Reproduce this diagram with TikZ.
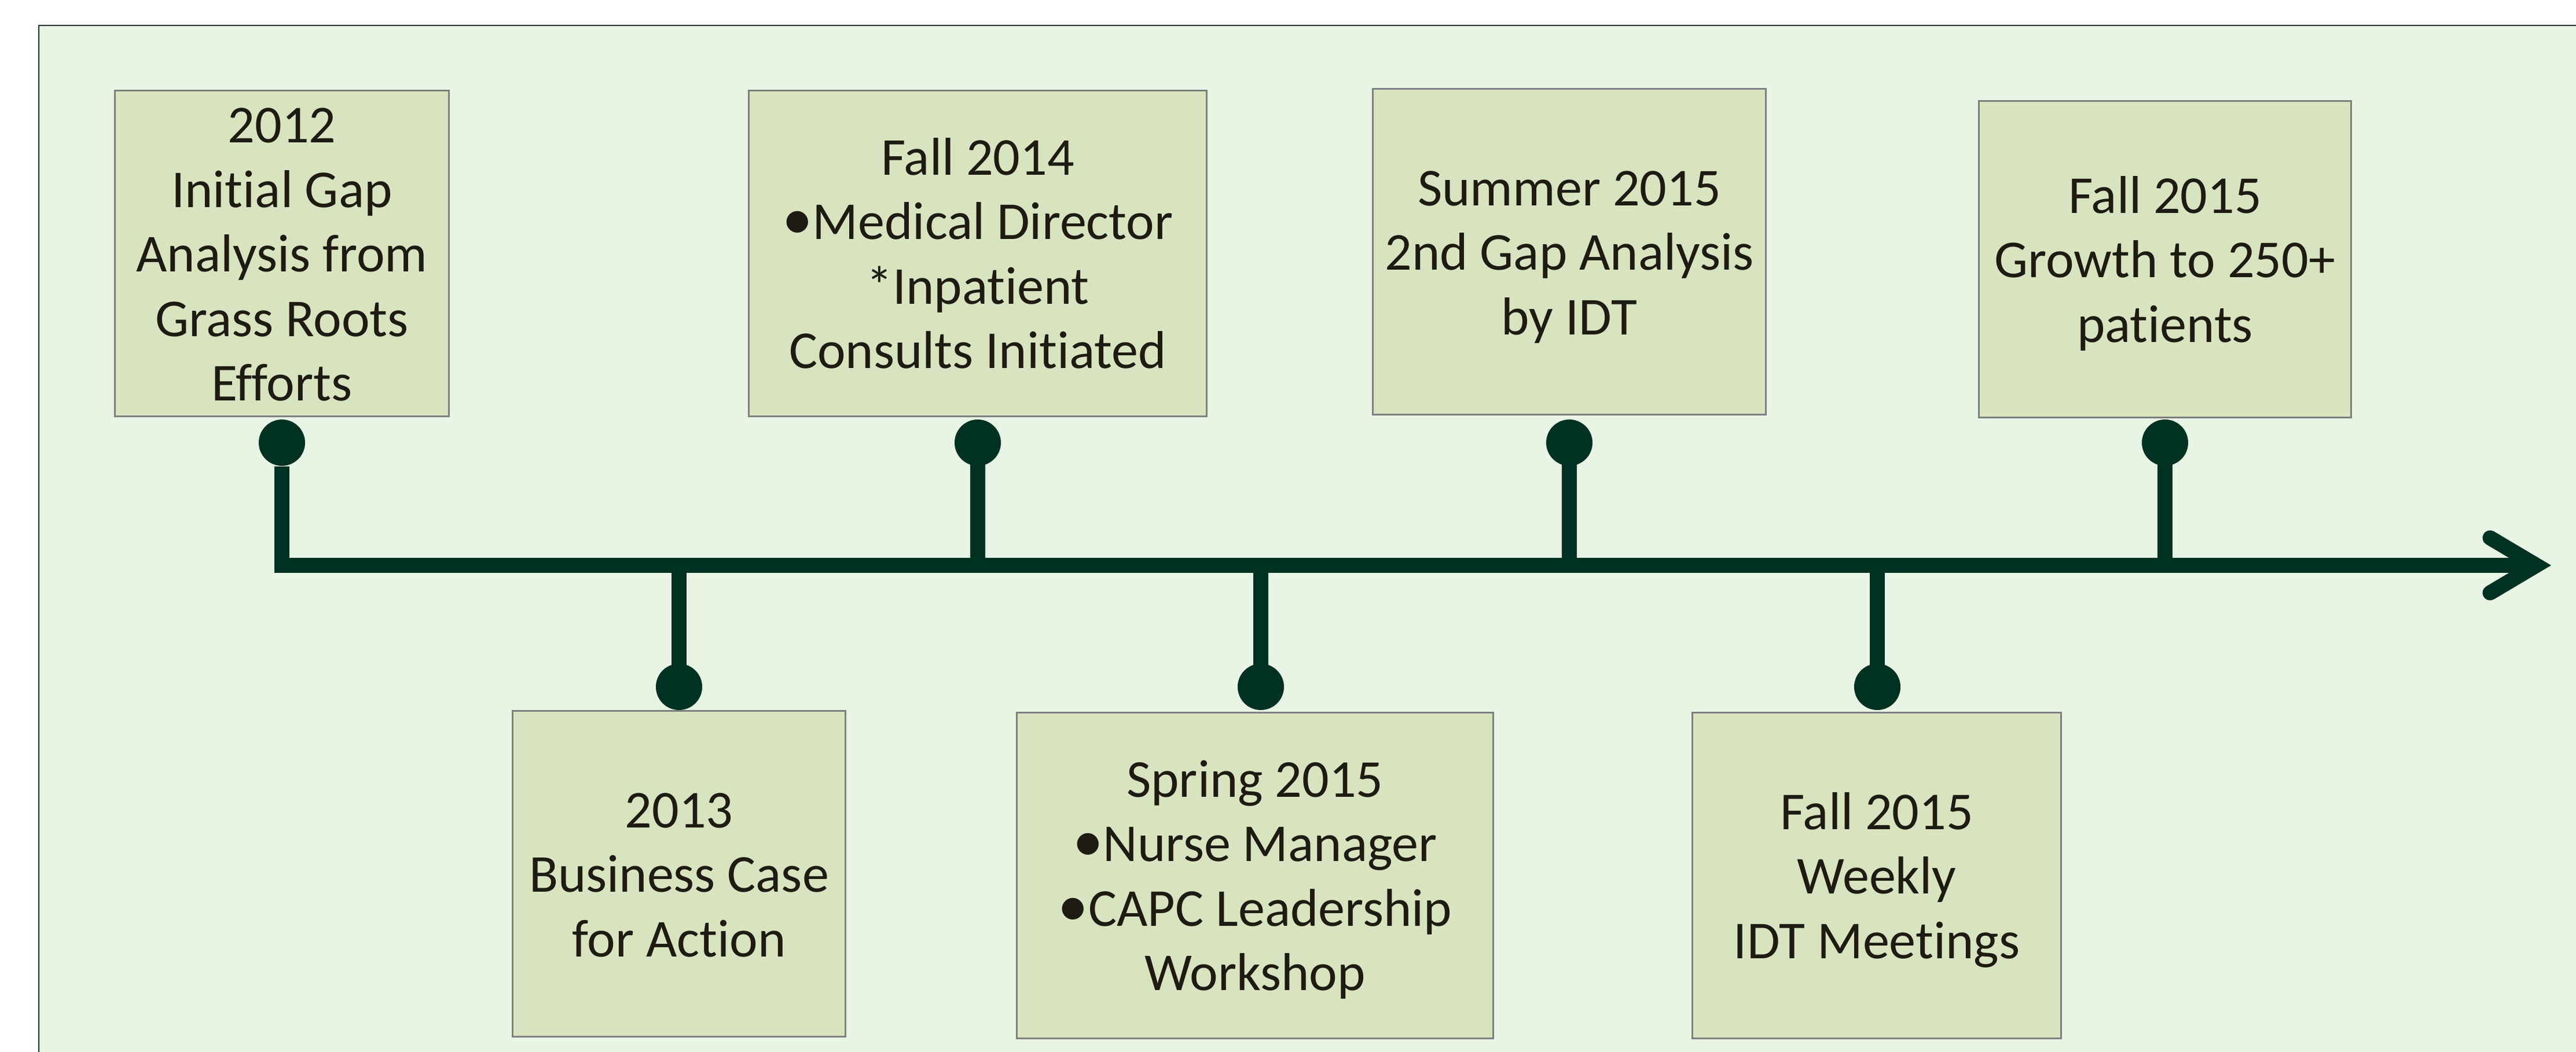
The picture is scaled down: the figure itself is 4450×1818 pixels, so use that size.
\documentclass[tikz,border=0pt]{standalone}
\usepackage{fontspec}
\setmainfont{Carlito}[Ligatures=NoCommon]
\usetikzlibrary{arrows.meta}
\definecolor{pagebg}{HTML}{E8F4E4}
\definecolor{boxfill}{HTML}{D8E4BF}
\definecolor{boxline}{HTML}{7F7F7F}
\definecolor{tline}{HTML}{003122}
\definecolor{ink}{HTML}{1E1B12}
\newcommand{\tstrut}{\rule[-0.22cm]{0pt}{1.07cm}}
\newcommand{\bul}{{\fontsize{30pt}{31.7pt}\selectfont •}}
\tikzset{
  eventbox/.style={draw=boxline, line width=0.03cm, fill=boxfill, inner sep=0pt,
    align=center, text=ink, font=\fontsize{26.2pt}{31.7pt}\selectfont},
  evdot/.style={circle, fill=tline, inner sep=0pt, minimum size=0.8cm},
  stem/.style={draw=tline, line width=0.26cm, line cap=rect},
  timeline/.style={draw=tline, line width=0.26cm, line join=miter,
    -{Straight Barb[length=0.8cm, width=0.95cm, line cap=round, line join=miter]}}
}
\begin{document}
\begin{tikzpicture}[x=0.01cm, y=-0.01cm]
\useasboundingbox (0,0) rectangle (4450,1818);
\clip (0,0) rectangle (4450,1818);
\draw[fill=pagebg, draw=tline, line width=0.02cm] (67,44) rectangle (4500,1900);

% above the line
\node[eventbox, minimum width=5.76cm, minimum height=5.63cm] (b2012) at (487,438)
  {\tstrut 2012\\Initial Gap\\Analysis from\\Grass Roots\\Efforts\tstrut};
\node[eventbox, minimum width=7.91cm, minimum height=5.63cm] (bfall14) at (1689,438)
  {\tstrut Fall 2014\\\bul Medical Director\\*Inpatient\\Consults Initiated\tstrut};
\node[eventbox, minimum width=6.79cm, minimum height=5.63cm] (bsummer15) at (2711,435)
  {\tstrut Summer 2015\\2nd Gap Analysis\\by IDT\tstrut};
\node[eventbox, minimum width=6.43cm, minimum height=5.46cm] (bgrowth) at (3740,448)
  {\tstrut Fall 2015\\Growth to 250+\\patients\tstrut};

% below the line
\node[eventbox, minimum width=5.75cm, minimum height=5.63cm] (b2013) at (1173,1510)
  {\tstrut 2013\\Business Case\\for Action\tstrut};
\node[eventbox, minimum width=8.22cm, minimum height=5.62cm] (bspring15) at (2168,1513)
  {\tstrut Spring 2015\\\bul Nurse Manager\\\bul CAPC Leadership\\Workshop\tstrut};
\node[eventbox, minimum width=6.37cm, minimum height=5.63cm] (bweekly) at (3242,1513)
  {\tstrut Fall 2015\\Weekly\\IDT Meetings\tstrut};

\node[evdot] (d2012) at (487,765) {};
\node[evdot] (dfall14) at (1689,765) {};
\node[evdot] (dsummer15) at (2711,765) {};
\node[evdot] (dgrowth) at (3740,765) {};
\node[evdot] (d2013) at (1173,1187) {};
\node[evdot] (dspring15) at (2178,1187) {};
\node[evdot] (dweekly) at (3243,1187) {};
\coordinate (tend) at (4407,977);

\draw[timeline] (d2012) |- (tend);
\foreach \d in {dfall14,dsummer15,dgrowth,d2013,dspring15,dweekly}
  \draw[stem] (\d) -- (\d |- tend);
\end{tikzpicture}
\end{document}
